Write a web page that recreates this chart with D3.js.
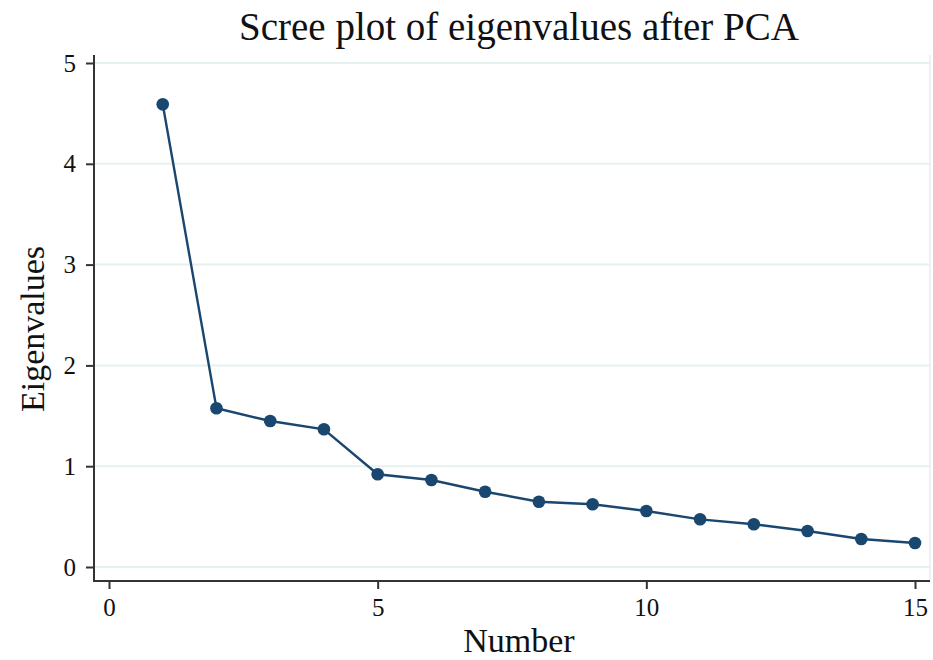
<!DOCTYPE html>
<html>
<head>
<meta charset="utf-8">
<script src="https://cdn.jsdelivr.net/npm/d3@7"></script>
<style>
  html, body { margin: 0; padding: 0; background: #fff; }
  svg { display: block; }
  text { font-family: "Liberation Serif", "DejaVu Serif", serif; fill: #111; }
</style>
</head>
<body>
<svg id="chart" width="933" height="660"></svg>
<script>
const components = [1, 2, 3, 4, 5, 6, 7, 8, 9, 10, 11, 12, 13, 14, 15];
const eigenvalues = [4.59, 1.575, 1.448, 1.366, 0.92, 0.863, 0.747, 0.648, 0.622, 0.556, 0.473, 0.424, 0.357, 0.278, 0.238];
const xTicks = [0, 5, 10, 15];
const yTicks = [0, 1, 2, 3, 4, 5];
const titleText = "Scree plot of eigenvalues after PCA";
const xTitle = "Number";
const yTitle = "Eigenvalues";

const svg = d3.select("#chart");
const plot = { left: 94, right: 930, top: 55, bottom: 581 };

const x = d3.scaleLinear().domain([0, 15]).range([109, 915]);
const y = d3.scaleLinear().domain([0, 5]).range([567, 63]);

// grid lines
svg.append("g").selectAll("line").data(yTicks).join("line")
  .attr("x1", plot.left).attr("x2", plot.right)
  .attr("y1", d => y(d)).attr("y2", d => y(d))
  .attr("stroke", "#e6f0f1").attr("stroke-width", 2);

// faint right border
svg.append("line")
  .attr("x1", plot.right).attr("x2", plot.right)
  .attr("y1", plot.top).attr("y2", plot.bottom)
  .attr("stroke", "#ececec").attr("stroke-width", 1.5);

// y axis
const yAxis = svg.append("g").attr("transform", `translate(${plot.left},0)`)
  .attr("font-size", 25)
  .call(d3.axisLeft(y).tickValues(yTicks).tickSize(8).tickPadding(10).tickFormat(d3.format("d")));
yAxis.attr("font-size", 25).attr("font-family", null);
yAxis.select(".domain").attr("d", `M0,${plot.top}V${plot.bottom}`).attr("stroke", "#333").attr("stroke-width", 2);
yAxis.selectAll(".tick line").attr("stroke", "#333").attr("stroke-width", 2);
yAxis.selectAll(".tick text").style("font-size", "25px").attr("fill", "#111");

// x axis
const xAxis = svg.append("g").attr("transform", `translate(0,${plot.bottom})`)
  .call(d3.axisBottom(x).tickValues(xTicks).tickSize(8).tickPadding(9).tickFormat(d3.format("d")));
xAxis.attr("font-size", 25).attr("font-family", null);
xAxis.select(".domain").attr("d", `M${plot.left - 1},0H${plot.right}`).attr("stroke", "#333").attr("stroke-width", 2);
xAxis.selectAll(".tick line").attr("stroke", "#333").attr("stroke-width", 2);
xAxis.selectAll(".tick text").style("font-size", "25px").attr("fill", "#111");

// line
const data = components.map((c, i) => ({ c, v: eigenvalues[i] }));
svg.append("path").datum(data)
  .attr("fill", "none").attr("stroke", "#1a476f").attr("stroke-width", 2.4)
  .attr("d", d3.line().x(d => x(d.c)).y(d => y(d.v)));

svg.append("g").selectAll("circle").data(data).join("circle")
  .attr("cx", d => x(d.c)).attr("cy", d => y(d.v)).attr("r", 6.3)
  .attr("fill", "#1a476f");

// titles
svg.append("text").attr("x", 519).attr("y", 40).attr("text-anchor", "middle")
  .style("font-size", "39px").text(titleText);
svg.append("text").attr("x", 519).attr("y", 652).attr("text-anchor", "middle")
  .style("font-size", "34px").text(xTitle);
svg.append("text").attr("transform", "translate(44,329) rotate(-90)").attr("text-anchor", "middle")
  .style("font-size", "34px").text(yTitle);
</script>
</body>
</html>
